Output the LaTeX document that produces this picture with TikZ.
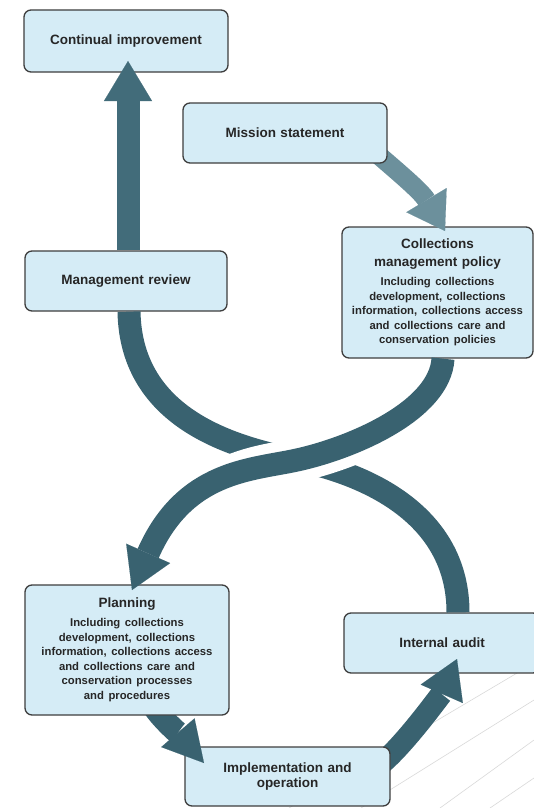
\documentclass[tikz,border=0pt]{standalone}
\usepackage{fontspec}
\setmainfont{Liberation Sans}
\usetikzlibrary{arrows.meta, positioning, calc}
\definecolor{boxfill}{RGB}{213,236,246}
\definecolor{boxline}{RGB}{62,62,62}
\definecolor{inktext}{RGB}{38,38,38}
\definecolor{flowdark}{RGB}{57,98,112}
\definecolor{flowmid}{RGB}{66,108,122}
\definecolor{flowlight}{RGB}{108,144,156}
\newcommand{\stagenote}{\fontsize{11.3}{14.5}\selectfont}

\begin{document}
\begin{tikzpicture}[x=1pt, y=-1pt,
  stage/.style={draw=boxline, line width=1.3pt, fill=boxfill, rounded corners=7pt,
    text=inktext, font=\bfseries\fontsize{13.5}{14.5}\selectfont, align=center,
    inner sep=0pt, text width=186pt},
  flow/.style={draw=flowdark, line width=23pt,
    -{Triangle[width=48pt, length=40pt, line width=0.1pt]}},
  band/.style={draw=flowdark, line width=23pt},
  scanline/.style={draw=gray!30, line width=0.6pt}]
  \fill[white] (0,0) rectangle (534,808);
  \useasboundingbox (0,0) rectangle (534,808);
  \draw[scanline] (534,663) -- (289,808); \draw[scanline] (534,700) -- (361,808);
  \draw[scanline] (534,740) -- (440,808); \draw[scanline] (534,778) -- (490,808);

  % arrows that leave a box at a slant are drawn before that box
  \coordinate (missionOut) at (368,146);
  \coordinate (implOut) at (376,768);
  \coordinate (planOut) at (150,700);
  \coordinate (collTip) at (445,231);
  \coordinate (auditTip) at (457,659);
  \coordinate (implTip) at (204,763);

  \node[stage, minimum width=204pt, minimum height=62pt] (cont) at (126,41) {Continual improvement};
  \node[stage, minimum width=202pt, minimum height=60pt] (mgmt) at (126,281) {Management review};
  \node[stage, minimum width=191pt, minimum height=131pt] (coll) at (437.5,292.5)
    {Collections\\[3.5pt] management policy\\[4.5pt] \stagenote Including collections\\
     development, collections\\ information, collections access\\ and collections care and\\
     conservation policies};
  \draw[flow, draw=flowlight, line width=19pt, -{Triangle[width=47pt, length=36pt, line width=0.1pt]}]
    (missionOut) .. controls +(30,26) and +(-24,-40) .. (collTip);
  \node[stage, minimum width=204pt, minimum height=60pt] (mission) at (285,133) {Mission statement};

  \node[stage, minimum width=196pt, minimum height=60pt] (audit) at (442,643) {Internal audit};
  \draw[flow, line width=22pt, -{Triangle[width=46pt, length=38pt, line width=0.1pt]}]
    (implOut) .. controls +(27,-20) and +(-14,32) .. (auditTip);
  \node[stage, minimum width=205pt, minimum height=59pt] (impl) at (287.5,776.5) {Implementation and\\ operation};
  \draw[flow, -{Triangle[width=44pt, length=40pt, line width=0.1pt]}]
    (planOut) .. controls +(6,14) and +(-25,-29) .. (implTip);
  \node[stage, minimum width=204pt, minimum height=130pt] (plan) at (127,650)
    {Planning\\[4.5pt] \stagenote Including collections\\ development, collections\\
     information, collections access\\ and collections care and\\ conservation processes\\
     and procedures};

  \coordinate (contTip) at (128,61);
  \coordinate (cross) at (297,460);
  \coordinate (planTip) at (132,590);

  % audit back up to review, passes under the other band
  \draw[band] ($(mgmt.south)+(3,0)$) .. controls +(2,109) and +(-60,-12) .. (cross)
    .. controls +(78,16) and +(0,-93) .. ($(audit.north)+(16,0)$);
  \begin{scope}
    \clip (cross) circle (95);
    \draw[white, line width=44pt] ($(coll.south)+(5.5,0)$) .. controls +(-3,52) and +(55,-12) .. (cross)
      .. controls +(-45,10) and +(53,-120) .. (planTip);
  \end{scope}
  \draw[flow] ($(coll.south)+(5.5,0)$) .. controls +(-3,52) and +(55,-12) .. (cross)
    .. controls +(-45,10) and +(53,-120) .. (planTip);

  \draw[flow, draw=flowmid] (mgmt.north -| contTip) -- (contTip);
\end{tikzpicture}
\end{document}
